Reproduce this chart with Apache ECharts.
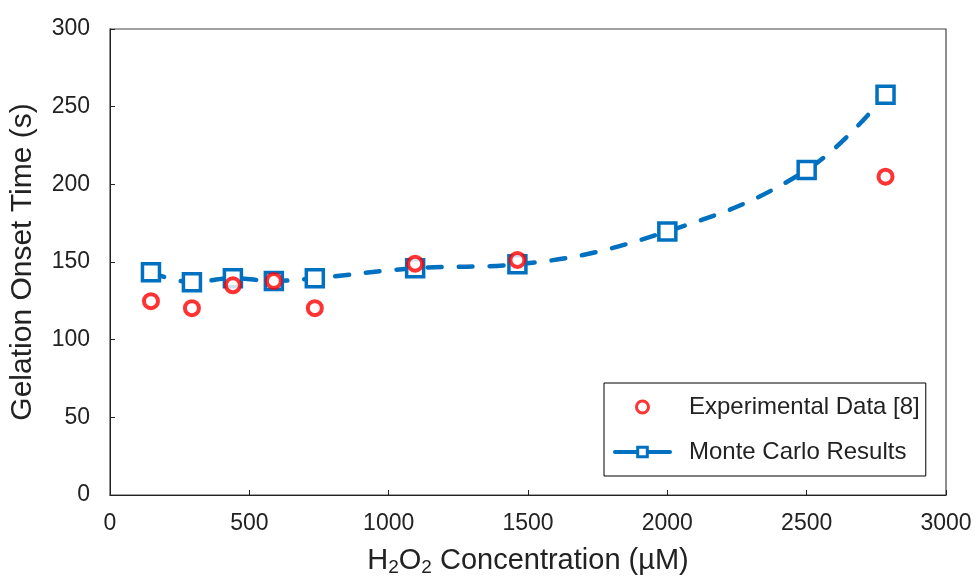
<!DOCTYPE html>
<html>
<head>
<meta charset="utf-8">
<script src="https://cdn.jsdelivr.net/npm/echarts@6/dist/echarts.min.js"></script>
<style>
  html, body { margin: 0; padding: 0; background: #fff; }
  #chart { width: 976px; height: 582px; }
</style>
</head>
<body>
<div id="chart"></div>
<script>
const concMC = [147, 294, 441, 588, 735, 1095, 1462, 2000, 2500, 2783]
const timeMC = [143.4, 137, 139.6, 137.8, 139.6, 146, 148.5, 169.7, 209.2, 257.7]
const concExp = [147, 294, 441, 588, 735, 1095, 1462, 2783]
const timeExp = [124.8, 120.3, 135, 137.8, 120.3, 148.9, 151.3, 204.9]
const xTicks = [0, 500, 1000, 1500, 2000, 2500, 3000]
const yTicks = [0, 50, 100, 150, 200, 250, 300]

const font = "'Liberation Sans', Arial, sans-serif"
const blue = '#0070C0'
const red = '#FF0000'

const chart = echarts.init(document.getElementById('chart'))

chart.setOption({
  animation: false,
  textStyle: { fontFamily: font },
  grid: {
    left: 110,
    right: 30,
    top: 29,
    bottom: 85,
    show: true,
    borderColor: '#444',
    borderWidth: 1.2
  },
  legend: {
    data: [
      { name: 'Experimental Data [8]', itemStyle: { borderWidth: 3 } },
      { name: 'Monte Carlo Results', itemStyle: { borderWidth: 3 }, lineStyle: { width: 4, type: 'solid' } }
    ],
    orient: 'vertical',
    left: 604,
    top: 383,
    padding: [12, 6, 12, 9],
    itemGap: 21,
    itemWidth: 55,
    itemHeight: 12,
    borderColor: '#000',
    borderWidth: 1,
    backgroundColor: '#fff',
    textStyle: {
      fontFamily: font,
      fontSize: 24,
      color: '#222',
      padding: [0, 0, 0, 14]
    }
  },
  xAxis: {
    type: 'value',
    min: xTicks[0],
    max: xTicks[xTicks.length - 1],
    interval: xTicks[1] - xTicks[0],
    name: 'H{s|2}O{s|2} Concentration (µM)',
    nameLocation: 'middle',
    nameGap: 50,
    nameTextStyle: {
      fontFamily: font,
      fontSize: 29,
      lineHeight: 32,
      color: '#222',
      rich: {
        s: { fontFamily: font, fontSize: 19, lineHeight: 14, verticalAlign: 'bottom', color: '#222' }
      }
    },
    axisLine: { lineStyle: { color: '#222', width: 1 } },
    axisTick: { inside: true, length: 5, lineStyle: { color: '#222' } },
    axisLabel: { fontSize: 23, color: '#222', margin: 17, formatter: v => String(v) },
    splitLine: { show: false }
  },
  yAxis: {
    type: 'value',
    min: yTicks[0],
    max: yTicks[yTicks.length - 1],
    interval: yTicks[1] - yTicks[0],
    name: 'Gelation Onset Time (s)',
    nameLocation: 'middle',
    nameGap: 72,
    nameTextStyle: { fontFamily: font, fontSize: 30, color: '#222' },
    axisLine: { show: true, lineStyle: { color: '#222', width: 1 } },
    axisTick: { show: true, inside: true, length: 5, lineStyle: { color: '#222' } },
    axisLabel: { fontSize: 23, color: '#222', margin: 20 },
    splitLine: { show: false }
  },
  series: [
    {
      name: 'Monte Carlo Results',
      type: 'line',
      smooth: 0.4,
      data: concMC.map((x, i) => [x, timeMC[i]]),
      symbol: 'rect',
      symbolSize: 17,
      itemStyle: { color: '#fff', borderColor: blue, borderWidth: 3.5 },
      lineStyle: { color: blue, width: 4.5, type: [14, 17], cap: 'round' },
      z: 2
    },
    {
      name: 'Experimental Data [8]',
      type: 'scatter',
      data: concExp.map((x, i) => [x, timeExp[i]]),
      symbol: 'circle',
      symbolSize: 14,
      itemStyle: { color: '#fff', borderColor: red, borderWidth: 4 },
      z: 3
    }
  ]
})
</script>
</body>
</html>
